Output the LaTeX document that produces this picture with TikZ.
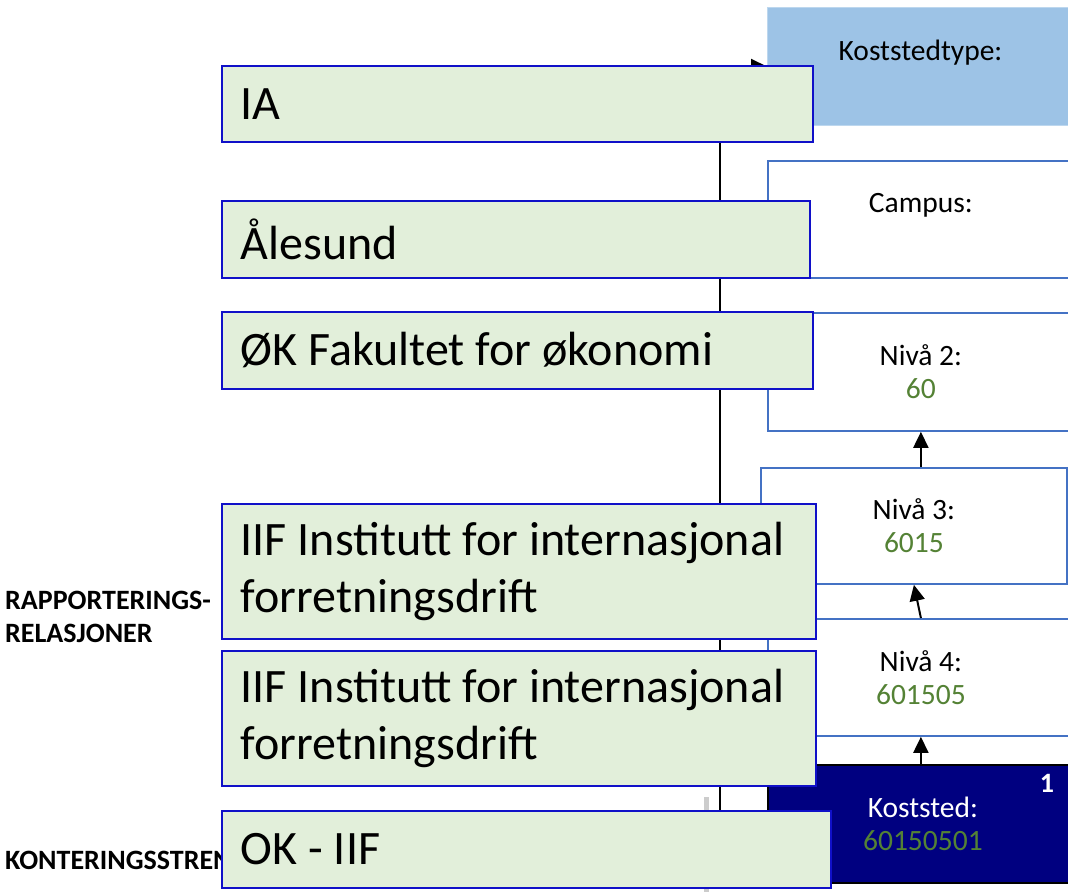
\documentclass[tikz,border=0pt]{standalone}
\usepackage{fontspec}
\setmainfont{Carlito}
\usetikzlibrary{arrows.meta}
\definecolor{gfill}{HTML}{E2EFDA}
\definecolor{gline}{HTML}{1010C8}
\definecolor{bline}{HTML}{4472C4}
\definecolor{kfill}{HTML}{9DC3E6}
\definecolor{kline}{HTML}{BDD7EE}
\definecolor{navy}{HTML}{000080}
\definecolor{val}{HTML}{548235}
\tikzset{
  gbox/.style={draw=gline, line width=1.6pt, fill=gfill, anchor=north west, align=flush left,
    inner xsep=19pt, inner ysep=0pt, font=\fontsize{48}{57}\selectfont},
  rbox/.style={draw=bline, line width=1.8pt, fill=white, anchor=north west, align=center,
    minimum width=306pt, inner sep=0pt, font=\fontsize{29.5}{33}\selectfont},
  lbl/.style={anchor=west, align=left, inner sep=0pt, font=\fontsize{28}{33}\selectfont\bfseries},
  arr/.style={line width=2pt, -{Triangle[width=15pt,length=16pt]}},
}
\begin{document}
\begin{tikzpicture}[x=1pt,y=-1pt]
\useasboundingbox (0,0) rectangle (1068,892);
% left labels
\node[lbl] (rap) at (5,616.5) {RAPPORTERINGS-\\RELASJONER};
\node[lbl] (kont) at (5,860) {KONTERINGSSTRENG};
% right boxes
\node[rbox, draw=kline, line width=1pt, fill=kfill, minimum height=118pt] (kt) at (767,7) {Koststedtype:\\\phantom{0}};
\node[rbox, minimum height=117pt] (campus) at (767,160) {Campus:\\\phantom{0}};
\node[rbox, minimum height=118pt] (n2) at (767,312) {Nivå 2:\\\textcolor{val}{60}};
\node[rbox, minimum height=116pt] (n3) at (760,467) {Nivå 3:\\\textcolor{val}{6015}};
\node[rbox, minimum height=117pt] (n4) at (767,618) {Nivå 4:\\\textcolor{val}{601505}};
\node[rbox, draw=black, fill=navy, text=white, minimum width=310pt, minimum height=118pt] (ks) at (767,764) {Koststed:\\\textcolor{val}{60150501}};
\node[anchor=center, text=white, inner sep=0pt, font=\fontsize{28}{33}\selectfont\bfseries] (one) at (1047,783) {1};
% connectors
\coordinate (vx) at (720,0);
\draw[arr] (ks.west) -- (ks.west -| vx) |- (kt.west);
\draw[arr] (n3.north -| n2.south) -- (n2.south);
\draw[arr] (n4.north) -- (n3.south);
\draw[arr] (ks.north -| n4.south) -- (n4.south);
% gray stub
\draw[black!20, line width=5pt] (706,797) -- (706,892);
% green boxes
\node[gbox, text width=553pt, minimum height=76pt] (ia) at (221,65) {IA};
\node[gbox, text width=550pt, minimum height=77pt] (al) at (221,200) {Ålesund};
\node[gbox, text width=553pt, minimum height=77pt] (ok) at (221,311) {ØK Fakultet for økonomi};
\node[gbox, text width=556pt, minimum height=135pt] (iif1) at (221,503) {IIF Institutt for internasjonal\\forretningsdrift};
\node[gbox, text width=556pt, minimum height=135pt] (iif2) at (221,650) {IIF Institutt for internasjonal\\forretningsdrift};
\node[gbox, text width=571pt, minimum height=77pt] (okiif) at (221,810) {OK - IIF};
\end{tikzpicture}
\end{document}
